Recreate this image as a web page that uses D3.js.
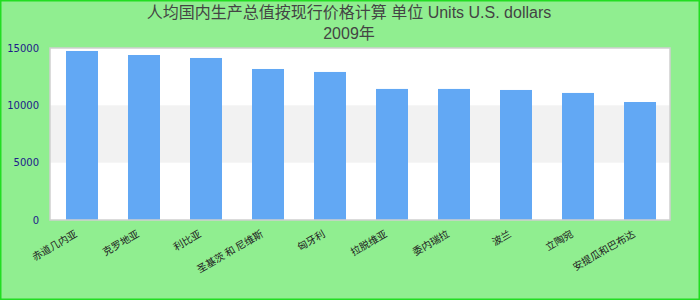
<!DOCTYPE html>
<html>
<head>
<meta charset="utf-8">
<script src="https://cdn.jsdelivr.net/npm/d3@7"></script>
<style>
  html, body { margin: 0; padding: 0; background: #90ee90; }
  svg { display: block; }
</style>
</head>
<body>
<svg id="chart" width="700" height="300"></svg>
<script>
const titleLines = ["人均国内生产总值按现行价格计算 单位 Units U.S. dollars", "2009年"];
const categories = ["赤道几内亚", "克罗地亚", "利比亚", "圣基茨 和 尼维斯", "匈牙利", "拉脱维亚", "委内瑞拉", "波兰", "立陶宛", "安提瓜和巴布达"];
const values = [14740, 14390, 14130, 13170, 12910, 11430, 11430, 11340, 11080, 10290];
const yTicks = [0, 5000, 10000, 15000];
const bands = [[5000, 10000]];

const W = 700, H = 300;
const m = { left: 50, right: 30, top: 48, bottom: 80 };
const svg = d3.select("#chart");

svg.append("rect").attr("x", 0).attr("y", 0).attr("width", W).attr("height", H)
  .attr("fill", "#90ee90");
svg.append("rect").attr("x", 0.75).attr("y", 0.75).attr("width", W - 1.5).attr("height", H - 1.5)
  .attr("fill", "none").attr("stroke", "#22dd22").attr("stroke-width", 1.5);

const x = d3.scaleBand().domain(categories).range([m.left, W - m.right + 2]).paddingInner(0.484).paddingOuter(0.258);
const y = d3.scaleLinear().domain([0, 15000]).range([H - m.bottom, m.top]);

// plot background
svg.append("rect").attr("x", m.left).attr("y", m.top)
  .attr("width", W - m.left - m.right).attr("height", H - m.top - m.bottom)
  .attr("fill", "#ffffff");
svg.selectAll("rect.band").data(bands).join("rect").attr("class", "band")
  .attr("x", m.left).attr("width", W - m.left - m.right)
  .attr("y", d => y(d[1])).attr("height", d => y(d[0]) - y(d[1]))
  .attr("fill", "#f2f2f2");

// bars
svg.selectAll("rect.bar").data(values).join("rect").attr("class", "bar")
  .attr("x", (d, i) => x(categories[i]))
  .attr("width", x.bandwidth())
  .attr("y", d => y(d))
  .attr("height", d => y(0) - y(d))
  .attr("fill", "#62a8f4");

// plot border
svg.append("rect").attr("x", m.left).attr("y", m.top)
  .attr("width", W - m.left - m.right).attr("height", H - m.top - m.bottom)
  .attr("fill", "none").attr("stroke", "#cfcfcf").attr("stroke-width", 1.5);

// y axis
const yAxis = d3.axisLeft(y).tickValues(yTicks).tickSize(0).tickPadding(11).tickFormat(d3.format("d"));
const gy = svg.append("g").attr("transform", `translate(${m.left},0)`).call(yAxis);
gy.select(".domain").remove();
gy.selectAll("text").attr("fill", "#20208a").attr("font-family", "DejaVu Sans, sans-serif").attr("font-size", 10);

// x axis
const xAxis = d3.axisBottom(x).tickSize(0).tickPadding(0);
const gx = svg.append("g").attr("transform", `translate(0,${H - m.bottom})`).call(xAxis);
gx.select(".domain").remove();
gx.selectAll("text")
  .attr("fill", "#222")
  .attr("font-family", "'Noto Sans CJK SC', sans-serif")
  .attr("font-size", 10)
  .attr("text-anchor", "end")
  .attr("dy", null)
  .attr("y", 0)
  .attr("transform", "translate(-4,16) rotate(-30)");

// title
const t = svg.append("text").attr("x", 349).attr("text-anchor", "middle")
  .attr("fill", "#444").attr("font-family", "'Liberation Sans', Arial, 'Noto Sans CJK SC', sans-serif").attr("font-size", 16);
t.selectAll("tspan").data(titleLines).join("tspan")
  .attr("x", 349).attr("y", (d, i) => 18 + i * 21).text(d => d);
</script>
</body>
</html>
